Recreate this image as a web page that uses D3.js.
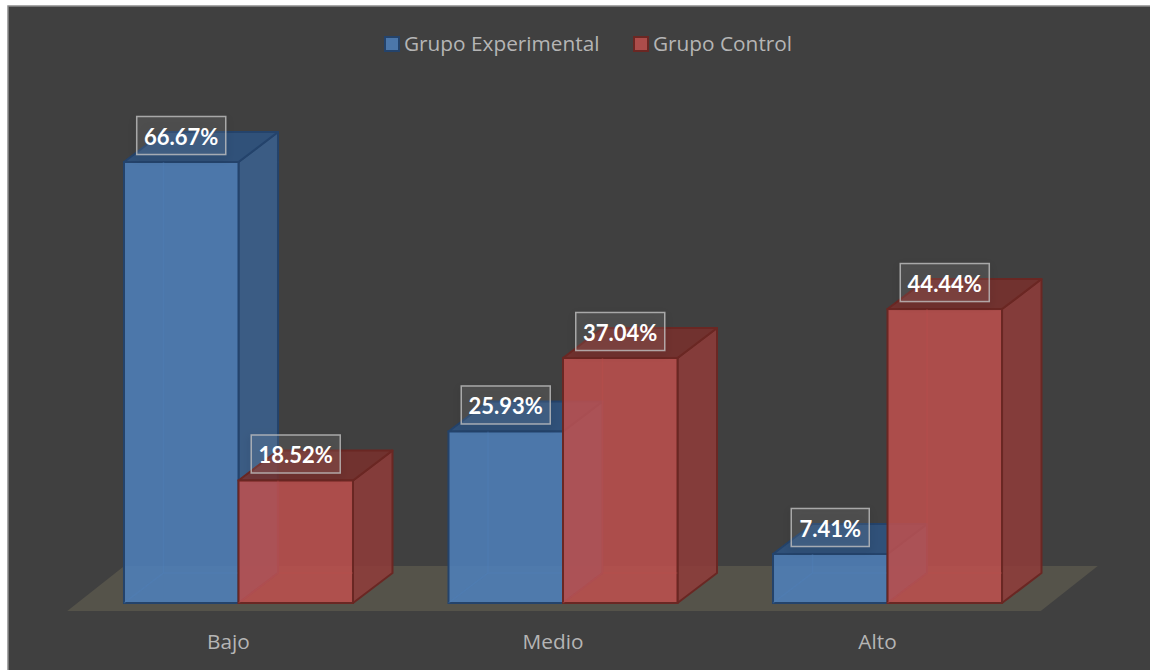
<!DOCTYPE html>
<html>
<head>
<meta charset="utf-8">
<script src="https://cdn.jsdelivr.net/npm/d3@7"></script>
<style>
html, body { margin: 0; padding: 0; background: #fff; }
svg { display: block; }
</style>
</head>
<body>
<div id="chart"></div>
<script>
var categories = ["Bajo", "Medio", "Alto"];
var seriesNames = ["Grupo Experimental", "Grupo Control"];
var experimental = [66.67, 25.93, 7.41];
var control = [18.52, 37.04, 44.44];

var width = 1150;
var height = 670;
var baseY = 603;
var depthX = 39.5;
var depthY = 30;
var uiFont = "'Open Sans', 'Noto Sans', sans-serif";

var palette = [
    { front: "#4f81bd", side: "#3b6291", top: "#2e5584", edge: "#24436b" },
    { front: "#c0504d", side: "#913c39", top: "#7a302d", edge: "#6a2723" }
];

var svg = d3.select("#chart")
    .append("svg")
    .attr("width", width)
    .attr("height", height);

var defs = svg.append("defs");
var shadow = defs.append("filter")
    .attr("id", "labelShadow")
    .attr("x", "-20%").attr("y", "-20%")
    .attr("width", "140%").attr("height", "150%");
shadow.append("feDropShadow")
    .attr("dx", 0).attr("dy", 3)
    .attr("stdDeviation", 4)
    .attr("flood-color", "#000")
    .attr("flood-opacity", 0.3);

// chart frame runs off the right and bottom of the picture
svg.append("rect")
    .attr("x", 8).attr("y", 6)
    .attr("width", 1160).attr("height", 680)
    .attr("fill", "#404040")
    .attr("stroke", "#8c8c8c")
    .attr("stroke-width", 1.5);

// scales
var x0 = d3.scaleBand()
    .domain(categories)
    .range([76.25, 1049.75])
    .paddingInner(0.2943)
    .paddingOuter(0.1471);

var x1 = d3.scaleBand()
    .domain(seriesNames)
    .range([0, x0.bandwidth()]);

var y = d3.scaleLinear()
    .domain([0, 66.67])
    .range([baseY, 162]);

// floor
var floorLeft = x0.range()[0] - 9;
var floorRight = x0.range()[1] - 9;
var floorFront = baseY + 8;
var floorBack = baseY - 37;
svg.append("polygon")
    .attr("points", [
        [floorLeft, floorFront],
        [floorLeft + 57, floorBack],
        [floorRight + 57, floorBack],
        [floorRight, floorFront]
    ].join(" "))
    .attr("fill", "#55534a");

function pts(list) {
    return list.map(function (p) { return p.join(","); }).join(" ");
}

function drawBar(g, x, w, value, colors) {
    var top = y(value);
    var right = x + w;

    // side and top faces
    g.append("polygon")
        .attr("points", pts([[right, top], [right + depthX, top - depthY], [right + depthX, baseY - depthY], [right, baseY]]))
        .attr("fill", colors.side)
        .attr("fill-opacity", 0.85)
        .attr("stroke", colors.edge)
        .attr("stroke-width", 2)
        .attr("stroke-linejoin", "round");
    g.append("polygon")
        .attr("points", pts([[x, top], [x + depthX, top - depthY], [right + depthX, top - depthY], [right, top]]))
        .attr("fill", colors.top)
        .attr("fill-opacity", 0.85)
        .attr("stroke", colors.edge)
        .attr("stroke-width", 2)
        .attr("stroke-linejoin", "round");

    // front face
    g.append("rect")
        .attr("x", x)
        .attr("y", top)
        .attr("width", w)
        .attr("height", baseY - top)
        .attr("fill", colors.front)
        .attr("fill-opacity", 0.85)
        .attr("stroke", colors.edge)
        .attr("stroke-width", 2);

    // hidden edges showing through the front
    g.append("path")
        .attr("d", "M" + x + "," + baseY +
            "L" + (x + depthX) + "," + (baseY - depthY) +
            "L" + right + "," + (baseY - depthY) +
            "M" + (x + depthX) + "," + (baseY - depthY) +
            "L" + (x + depthX) + "," + top)
        .attr("fill", "none")
        .attr("stroke", colors.front)
        .attr("stroke-opacity", 0.3)
        .attr("stroke-width", 1.5);
}

var seriesValues = [experimental, control];

seriesNames.forEach(function (name, s) {
    categories.forEach(function (cat, i) {
        var g = svg.append("g").attr("class", "bar");
        drawBar(g, x0(cat) + x1(name), x1.bandwidth(), seriesValues[s][i], palette[s]);
    });
});

// data labels on top of every bar
seriesNames.forEach(function (name, s) {
    categories.forEach(function (cat, i) {
        var cx = x0(cat) + x1(name) + x1.bandwidth() / 2;
        var top = y(seriesValues[s][i]);
        var boxW = seriesValues[s][i] < 10 ? 78 : 89;
        var g = svg.append("g").attr("class", "dataLabel");
        g.append("rect")
            .attr("x", cx - boxW / 2)
            .attr("y", top - 45.5)
            .attr("width", boxW)
            .attr("height", 38)
            .attr("fill", "#ffffff")
            .attr("fill-opacity", 0.06)
            .attr("stroke", "#c0c0c0")
            .attr("stroke-opacity", 0.8)
            .attr("stroke-width", 1.5)
            .attr("filter", "url(#labelShadow)");
        g.append("text")
            .attr("x", cx)
            .attr("y", top - 17)
            .attr("text-anchor", "middle")
            .attr("font-family", "Lato, sans-serif")
            .attr("font-weight", 700)
            .attr("font-size", 22)
            .attr("fill", "#ffffff")
            .text(d3.format(".2f")(seriesValues[s][i]) + "%");
    });
});

// category labels
svg.selectAll("text.cat")
    .data(categories)
    .enter()
    .append("text")
    .attr("class", "cat")
    .attr("x", function (c) { return x0(c) + x0.bandwidth() / 2 - 10; })
    .attr("y", 649)
    .attr("text-anchor", "middle")
    .attr("font-family", uiFont)
    .attr("font-size", 20.8)
    .attr("fill", "#b5b5b5")
    .text(function (c) { return c; });

// legend
var legendX = [385, 634];
seriesNames.forEach(function (name, s) {
    svg.append("rect")
        .attr("x", legendX[s]).attr("y", 37)
        .attr("width", 14).attr("height", 14)
        .attr("fill", palette[s].front)
        .attr("fill-opacity", 0.85)
        .attr("stroke", palette[s].edge)
        .attr("stroke-width", 2);
    svg.append("text")
        .attr("x", legendX[s] + 19)
        .attr("y", 51)
        .attr("font-family", uiFont)
        .attr("font-size", 20.8)
        .attr("fill", "#b5b5b5")
        .text(name);
});
</script>
</body>
</html>
